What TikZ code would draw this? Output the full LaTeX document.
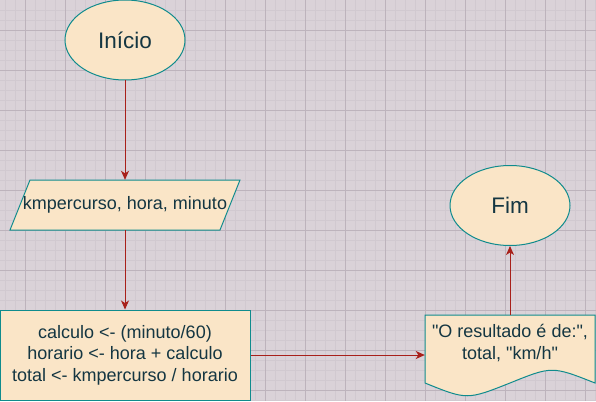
\documentclass[tikz,border=0pt]{standalone}
\usepackage{fontspec}
\setmainfont{Liberation Sans}
\usetikzlibrary{shapes.geometric,arrows.meta}
\begin{document}
\begin{tikzpicture}[
            x=1pt, y=-1pt,
            >={Stealth[length=9pt,width=8pt,inset=2.5pt]},
            font=\fontsize{18}{21.5}\selectfont,
            bloco/.style={draw=borda, fill=preenche, text=texto, line width=1pt},
            terminal/.style={bloco, ellipse, minimum width=120pt, minimum height=80pt, inner sep=0pt, font=\fontsize{22.5}{27}\selectfont},
            texto/.style={text=texto, inner sep=0pt, align=center},
            processo/.style={bloco, rectangle, minimum width=250pt, minimum height=90pt, align=center},
            seta/.style={->, draw=linha, fill=linha, line width=1pt},
            grademenor/.style={draw=corfina, line width=0.6pt},
            gradeforte/.style={draw=corforte, line width=0.9pt}
        ]
		\definecolor{fundo}{HTML}{DAD2D8}
		\definecolor{corfina}{HTML}{D1C9D0}
		\definecolor{corforte}{HTML}{BDB3BC}
		\definecolor{preenche}{HTML}{FAE5C7}
		\definecolor{borda}{HTML}{0F8B8D}
		\definecolor{texto}{HTML}{143642}
		\definecolor{linha}{HTML}{A8201A}
		
		%Grade
		\useasboundingbox (0,0) rectangle (596,401);
		\fill[fundo] (0,0) rectangle (596,401);
		\foreach \gx in {5,15,...,595} \draw[grademenor] (\gx,0) -- (\gx,401);
		\foreach \gy in {10,20,...,400} \draw[grademenor] (0,\gy) -- (596,\gy);
		\foreach \gx in {25,65,...,585} \draw[gradeforte] (\gx,0) -- (\gx,401);
		\foreach \gy in {30,70,...,390} \draw[gradeforte] (0,\gy) -- (596,\gy);
		
		%Blocos
		\node[terminal] (inicio) at (125,40) {Início};
		
		\draw[bloco] (30,180) -- (240,180) -- (220,230) -- (10,230) -- cycle;
		\node[texto, minimum width=210pt, minimum height=50pt] (entrada) at (125,205) {kmpercurso, hora, minuto};
		
		\node[processo] (calculo) at (125,355) {calculo <- (minuto/60)\\horario <- hora + calculo\\total <- kmpercurso / horario};
		\node[terminal] (fim) at (510,205.5) {Fim};
		
		\draw[bloco] (425,315) -- (595,315) -- (595,383) .. controls (552,366) .. (510,383) .. controls (467,400) .. (425,383) -- cycle;
		\node[texto, minimum width=170pt, minimum height=56pt] (saida) at (510,343) {\textquotedbl O resultado é de:\textquotedbl,\\total, \textquotedbl km/h\textquotedbl};
		
		%Setas
		\draw[seta] (inicio) -- (entrada);
		\draw[seta] (entrada) -- (calculo);
		\draw[seta] (calculo.east) -- (calculo.east -| saida.west);
		\draw[seta] (saida.north) -- (fim);
    \end{tikzpicture}
\end{document}
